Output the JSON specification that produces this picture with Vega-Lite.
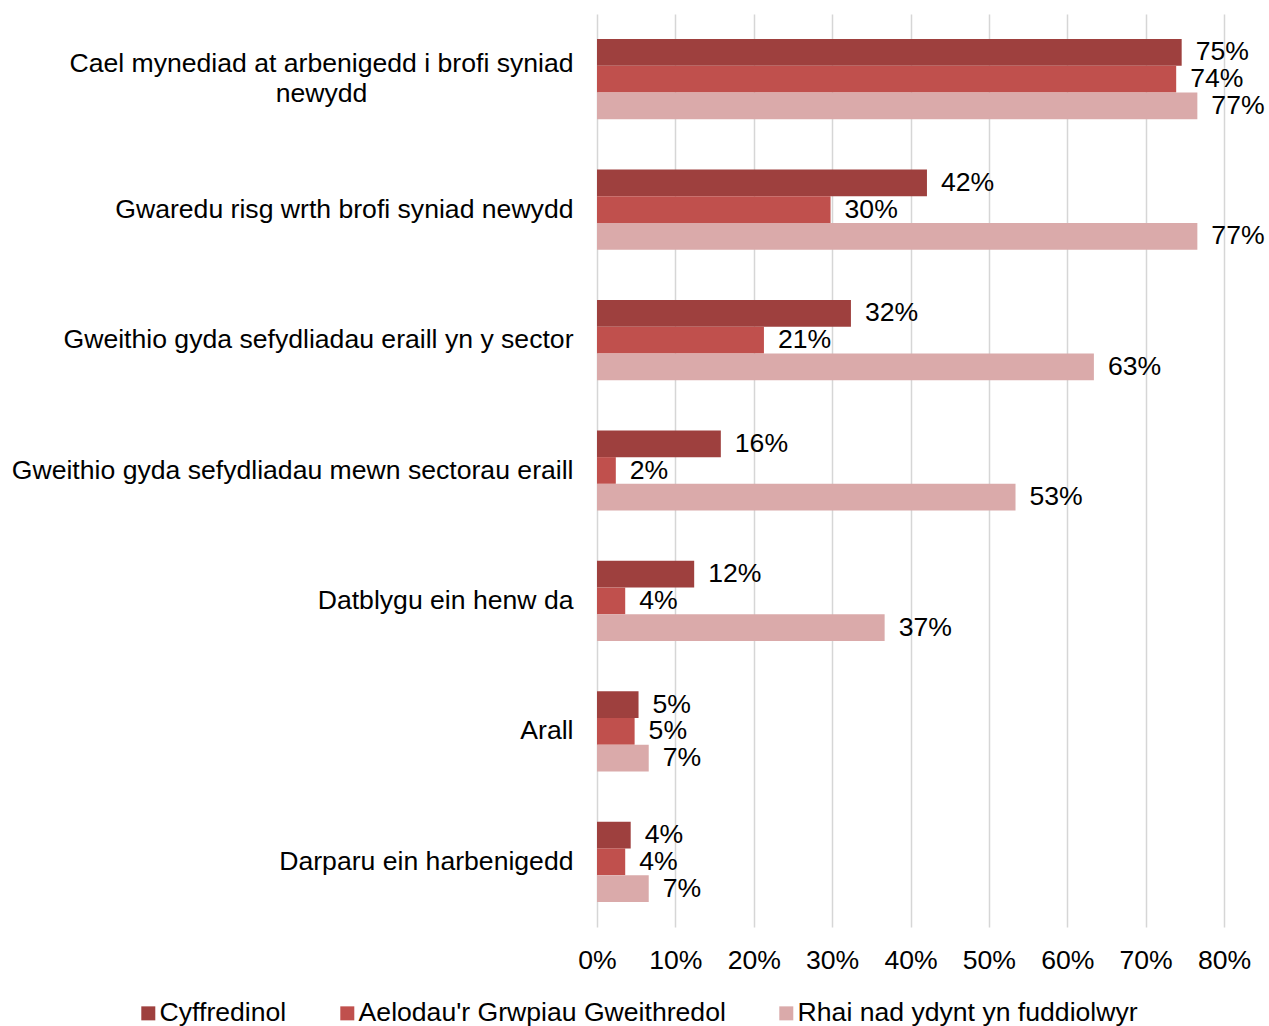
{
  "$schema": "https://vega.github.io/schema/vega-lite/v6.json",
  "autosize": {"type": "none"},
  "padding": {"left": 597, "top": 14, "right": 45, "bottom": 99},
  "width": 627,
  "height": 913,
  "background": "white",
  "config": {
    "view": {"stroke": null},
    "font": "Liberation Sans",
    "text": {"font": "Liberation Sans"}
  },
  "data": {
    "values": [
      {"category": "Cael mynediad at arbenigedd i brofi syniad newydd", "group": "Cyffredinol", "value": 0.746},
      {"category": "Cael mynediad at arbenigedd i brofi syniad newydd", "group": "Aelodau'r Grwpiau Gweithredol", "value": 0.739},
      {"category": "Cael mynediad at arbenigedd i brofi syniad newydd", "group": "Rhai nad ydynt yn fuddiolwyr", "value": 0.766},
      {"category": "Gwaredu risg wrth brofi syniad newydd", "group": "Cyffredinol", "value": 0.421},
      {"category": "Gwaredu risg wrth brofi syniad newydd", "group": "Aelodau'r Grwpiau Gweithredol", "value": 0.298},
      {"category": "Gwaredu risg wrth brofi syniad newydd", "group": "Rhai nad ydynt yn fuddiolwyr", "value": 0.766},
      {"category": "Gweithio gyda sefydliadau eraill yn y sector", "group": "Cyffredinol", "value": 0.324},
      {"category": "Gweithio gyda sefydliadau eraill yn y sector", "group": "Aelodau'r Grwpiau Gweithredol", "value": 0.213},
      {"category": "Gweithio gyda sefydliadau eraill yn y sector", "group": "Rhai nad ydynt yn fuddiolwyr", "value": 0.634},
      {"category": "Gweithio gyda sefydliadau mewn sectorau eraill", "group": "Cyffredinol", "value": 0.158},
      {"category": "Gweithio gyda sefydliadau mewn sectorau eraill", "group": "Aelodau'r Grwpiau Gweithredol", "value": 0.024},
      {"category": "Gweithio gyda sefydliadau mewn sectorau eraill", "group": "Rhai nad ydynt yn fuddiolwyr", "value": 0.534},
      {"category": "Datblygu ein henw da", "group": "Cyffredinol", "value": 0.124},
      {"category": "Datblygu ein henw da", "group": "Aelodau'r Grwpiau Gweithredol", "value": 0.036},
      {"category": "Datblygu ein henw da", "group": "Rhai nad ydynt yn fuddiolwyr", "value": 0.367},
      {"category": "Arall", "group": "Cyffredinol", "value": 0.053},
      {"category": "Arall", "group": "Aelodau'r Grwpiau Gweithredol", "value": 0.048},
      {"category": "Arall", "group": "Rhai nad ydynt yn fuddiolwyr", "value": 0.066},
      {"category": "Darparu ein harbenigedd", "group": "Cyffredinol", "value": 0.043},
      {"category": "Darparu ein harbenigedd", "group": "Aelodau'r Grwpiau Gweithredol", "value": 0.036},
      {"category": "Darparu ein harbenigedd", "group": "Rhai nad ydynt yn fuddiolwyr", "value": 0.066}
    ]
  },
  "encoding": {
    "y": {
      "field": "category",
      "type": "nominal",
      "sort": null,
      "title": null,
      "scale": {"paddingInner": 0.385, "paddingOuter": 0.1925},
      "axis": {
        "domain": false,
        "ticks": false,
        "tickSize": 0,
        "grid": false,
        "labelFont": "Liberation Sans",
        "labelFontSize": 26.6,
        "labelColor": "#000000",
        "labelLimit": 700,
        "labelLineHeight": 30,
        "labelBaseline": "middle",
        "labelAlign": {"condition": {"test": "datum.value == 'Cael mynediad at arbenigedd i brofi syniad newydd'", "value": "center"}, "value": "right"},
        "labelPadding": {"condition": {"test": "datum.value == 'Cael mynediad at arbenigedd i brofi syniad newydd'", "value": 276}, "value": 24},
        "labelOffset": {"condition": {"test": "datum.value == 'Cael mynediad at arbenigedd i brofi syniad newydd'", "value": -15}, "value": 0},
        "labelExpr": "datum.value == 'Cael mynediad at arbenigedd i brofi syniad newydd' ? ['Cael mynediad at arbenigedd i brofi syniad', 'newydd'] : datum.value"
      }
    },
    "yOffset": {
      "field": "group",
      "type": "nominal",
      "sort": ["Cyffredinol", "Aelodau'r Grwpiau Gweithredol", "Rhai nad ydynt yn fuddiolwyr"]
    },
    "x": {
      "field": "value",
      "type": "quantitative",
      "title": null,
      "scale": {"domain": [0, 0.8], "nice": false},
      "axis": {
        "format": ".0%",
        "values": [0, 0.1, 0.2, 0.3, 0.4, 0.5, 0.6, 0.7, 0.8],
        "domain": false,
        "ticks": false,
        "tickSize": 0,
        "grid": true,
        "gridColor": "#d6d6d6",
        "gridWidth": 1.5,
        "labelFont": "Liberation Sans",
        "labelFontSize": 26.6,
        "labelColor": "#000000",
        "labelPadding": 20,
        "labelFlush": false,
        "labelOverlap": false
      }
    }
  },
  "layer": [
    {
      "mark": {"type": "bar"},
      "encoding": {
        "color": {
          "field": "group",
          "type": "nominal",
          "scale": {
            "domain": ["Cyffredinol", "Aelodau'r Grwpiau Gweithredol", "Rhai nad ydynt yn fuddiolwyr"],
            "range": ["#9e403e", "#c0504d", "#daaaaa"]
          },
          "legend": {
            "title": null,
            "orient": "none",
            "direction": "horizontal",
            "legendX": -462,
            "legendY": 986,
            "symbolType": "square",
            "symbolSize": 196,
            "symbolStrokeWidth": 0,
            "labelFont": "Liberation Sans",
            "labelFontSize": 26.6,
            "labelColor": "#000000",
            "labelLimit": 600,
            "labelOffset": -2,
            "columnPadding": 47
          }
        }
      }
    },
    {
      "mark": {"type": "text", "align": "left", "baseline": "middle", "dx": 14, "font": "Liberation Sans", "fontSize": 26.6, "color": "#000000"},
      "encoding": {
        "text": {"field": "value", "type": "quantitative", "format": ".0%"}
      }
    }
  ]
}
